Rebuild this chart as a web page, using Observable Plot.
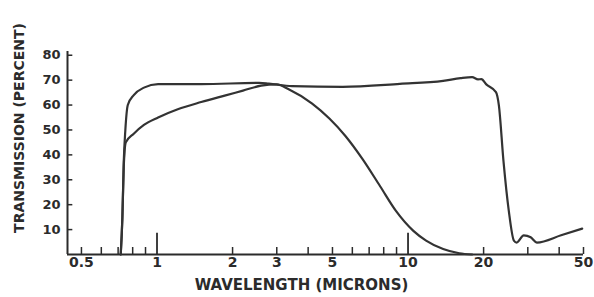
<!DOCTYPE html>
<html>
<head>
<meta charset="utf-8">
<script src="https://cdn.jsdelivr.net/npm/d3@7"></script>
<script src="https://cdn.jsdelivr.net/npm/@observablehq/plot@0.6"></script>
<style>
  html, body { margin: 0; padding: 0; background: white; }
</style>
</head>
<body>
<div id="chart"></div>
<script>
// Curve A: flat ~68% from 1 to 22 µm, cuts off near 24 µm
const wavelengthA = [0.717, 0.728, 0.737, 0.748, 0.765, 0.808, 0.887, 1.01, 1.5, 2.55, 2.79, 3.45, 5.49, 9.28, 13.8, 16.2, 18.0, 19.0, 19.6, 20.5, 22.4, 23.0, 24.0, 25.2, 26.4, 27.1, 28.9, 30.8, 32.6, 40.7, 49.4];
const transmissionA = [0, 15, 37, 50, 60, 64, 67, 68.4, 68.4, 68.9, 68.6, 67.6, 67.3, 68.5, 69.7, 70.8, 71.2, 70.3, 70.4, 68.3, 65.2, 60, 37.5, 17.5, 5.6, 4.8, 7.7, 6.9, 4.8, 7.7, 10.4];

// Curve B: peaks near 3 µm, falls to zero by ~16 µm
const wavelengthB = [0.717, 0.728, 0.737, 0.751, 0.808, 0.887, 1.01, 1.21, 1.5, 1.86, 2.2, 2.6, 3.0, 3.36, 4.15, 4.86, 5.63, 6.59, 7.74, 8.95, 10.5, 11.8, 13.8, 16.0, 18.0];
const transmissionB = [0, 15, 35, 45, 48.5, 52, 55, 58.3, 61.2, 63.8, 65.8, 67.8, 68.3, 66.2, 60.6, 54.6, 47.6, 38.3, 27.4, 17.5, 9.5, 5.6, 2.2, 0.5, 0];

const xTickLabels = [0.5, 1, 2, 3, 5, 10, 20, 50];
const xMinorTicks = [0.5, 0.6, 0.7, 0.8, 0.9, 2, 3, 4, 5, 6, 7, 8, 9, 20, 30, 40, 50];
const xMajorTicks = [1, 10];
const yTicks = [10, 20, 30, 40, 50, 60, 70, 80];

const xDomain = [0.44, 50];
const yDomain = [0, 81.5];

const seriesA = wavelengthA.map((w, i) => ({w, t: transmissionA[i]}));
const seriesB = wavelengthB.map((w, i) => ({w, t: transmissionB[i]}));

const ink = "#2b2b2b";

const chart = Plot.plot({
  width: 594,
  height: 297,
  marginLeft: 67,
  marginRight: 11,
  marginTop: 51,
  marginBottom: 43,
  x: {type: "log", domain: xDomain},
  y: {domain: yDomain},
  style: {fontFamily: "DejaVu Sans", fontWeight: "bold", color: ink, background: "white", overflow: "visible"},
  marks: [
    Plot.axisX({ticks: xTickLabels, tickFormat: d => String(d), tickSize: 0, tickPadding: 3, fontSize: 14, fontWeight: "bold", label: null}),
    Plot.axisY({ticks: yTicks, tickSize: 0, tickPadding: 7, fontSize: 13, fontWeight: "bold", label: null}),
    Plot.ruleX(xMinorTicks, {x: d => d, y1: 0, y2: 2.8, stroke: ink, strokeWidth: 1.5}),
    Plot.ruleX(xMajorTicks, {x: d => d, y1: 0, y2: 8.5, stroke: ink, strokeWidth: 1.8}),
    Plot.ruleY(yTicks, {y: d => d, x1: xDomain[0], x2: 0.462, stroke: ink, strokeWidth: 1.5}),
    Plot.ruleY([0], {stroke: ink, strokeWidth: 2}),
    Plot.ruleX([xDomain[0]], {y1: yDomain[0], y2: yDomain[1], stroke: ink, strokeWidth: 2}),
    Plot.line(seriesB, {x: "w", y: "t", stroke: "#333", strokeWidth: 2.2, curve: "monotone-x"}),
    Plot.line(seriesA, {x: "w", y: "t", stroke: "#333", strokeWidth: 2.2, curve: "monotone-x"}),
    Plot.text(["WAVELENGTH (MICRONS)"], {frameAnchor: "bottom", dx: -24, dy: 35, fontSize: 15, fontWeight: "bold", fill: ink}),
    Plot.text(["TRANSMISSION (PERCENT)"], {frameAnchor: "left", textAnchor: "middle", rotate: -90, dx: -48, dy: -25, fontSize: 14, fontWeight: "bold", fill: ink})
  ]
});

document.getElementById("chart").appendChild(chart);
</script>
</body>
</html>
